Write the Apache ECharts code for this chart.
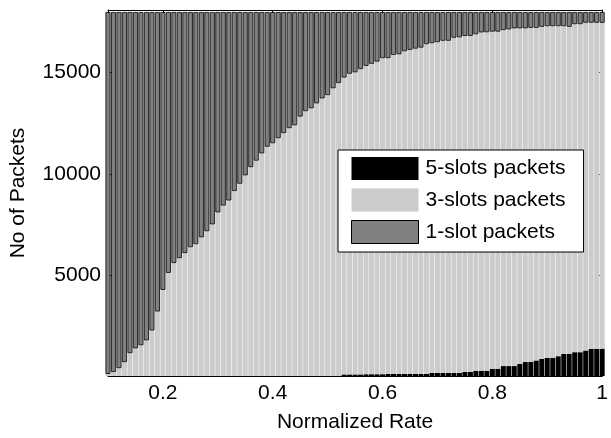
<!DOCTYPE html>
<html>
<head>
<meta charset="utf-8">
<script src="https://cdn.jsdelivr.net/npm/echarts@6/dist/echarts.min.js"></script>
<style>
  html, body { margin: 0; padding: 0; background: #fff; }
  #chart { width: 611px; height: 438px; }
</style>
</head>
<body>
<div id="chart"></div>
<script>
// Normalized rate of each bar
const rates = [
  0.10, 0.11, 0.12, 0.13, 0.14, 0.15, 0.16, 0.17, 0.18, 0.19,
  0.20, 0.21, 0.22, 0.23, 0.24, 0.25, 0.26, 0.27, 0.28, 0.29,
  0.30, 0.31, 0.32, 0.33, 0.34, 0.35, 0.36, 0.37, 0.38, 0.39,
  0.40, 0.41, 0.42, 0.43, 0.44, 0.45, 0.46, 0.47, 0.48, 0.49,
  0.50, 0.51, 0.52, 0.53, 0.54, 0.55, 0.56, 0.57, 0.58, 0.59,
  0.60, 0.61, 0.62, 0.63, 0.64, 0.65, 0.66, 0.67, 0.68, 0.69,
  0.70, 0.71, 0.72, 0.73, 0.74, 0.75, 0.76, 0.77, 0.78, 0.79,
  0.80, 0.81, 0.82, 0.83, 0.84, 0.85, 0.86, 0.87, 0.88, 0.89,
  0.90, 0.91, 0.92, 0.93, 0.94, 0.95, 0.96, 0.97, 0.98, 0.99,
  1.00
];

// Packets needing 5 slots
const fiveSlot = [
  0, 0, 0, 0, 0, 0, 0, 0, 0, 0,
  0, 0, 0, 0, 0, 0, 0, 0, 0, 0,
  0, 0, 0, 0, 0, 0, 0, 0, 0, 0,
  0, 0, 0, 0, 0, 0, 0, 0, 0, 0,
  0, 0, 0, 80, 80, 80, 80, 90, 90, 90,
  90, 100, 100, 100, 100, 100, 100, 100, 100, 150,
  150, 150, 150, 150, 150, 210, 210, 260, 260, 260,
  360, 360, 490, 490, 490, 600, 690, 690, 770, 850,
  900, 900, 980, 1090, 1090, 1180, 1180, 1260, 1340, 1350,
  1350
];

// Packets needing 3 slots
const threeSlot = [
  100, 200, 390, 690, 1130, 1370, 1520, 1760, 2250, 3190,
  4260, 5100, 5590, 5830, 6080, 6370, 6520, 6860, 7160, 7500,
  8090, 8430, 8680, 9150, 9510, 9920, 10330, 10650, 11010, 11340,
  11510, 11760, 12010, 12260, 12400, 12830, 13100, 13240, 13480, 13730,
  13890, 14230, 14490, 14680, 14870, 14940, 15100, 15250, 15350, 15460,
  15630, 15620, 15780, 15810, 15960, 16030, 16090, 16140, 16310, 16310,
  16360, 16430, 16430, 16580, 16600, 16610, 16610, 16640, 16730, 16740,
  16670, 16670, 16620, 16650, 16700, 16590, 16500, 16530, 16450, 16420,
  16400, 16400, 16320, 16210, 16180, 16220, 16220, 16210, 16130, 16120,
  16120
];

// Packets needing a single slot
const oneSlot = [
  17900, 17800, 17610, 17310, 16870, 16630, 16480, 16240, 15750, 14810,
  13740, 12900, 12410, 12170, 11920, 11630, 11480, 11140, 10840, 10500,
  9910, 9570, 9320, 8850, 8490, 8080, 7670, 7350, 6990, 6660,
  6490, 6240, 5990, 5740, 5600, 5170, 4900, 4760, 4520, 4270,
  4110, 3770, 3510, 3240, 3050, 2980, 2820, 2660, 2560, 2450,
  2280, 2280, 2120, 2090, 1940, 1870, 1810, 1760, 1590, 1540,
  1490, 1420, 1420, 1270, 1250, 1180, 1180, 1100, 1010, 1000,
  970, 970, 890, 860, 810, 810, 810, 780, 780, 730,
  700, 700, 700, 700, 730, 600, 600, 530, 530, 530,
  530
];

// Rates that carry a tick and label on the x axis
const xTickLabels = [0.2, 0.4, 0.6, 0.8, 1];
const yTicks = [5000, 10000, 15000];
const seriesNames = ['5-slots packets', '3-slots packets', '1-slot packets'];

const FONT = 'Liberation Sans, Arial, sans-serif';

const categories = rates.map(r => String(r));
const tickSet = new Set(xTickLabels.map(v => String(v)));
const isTickCategory = (index, value) => tickSet.has(String(value));

const chart = echarts.init(document.getElementById('chart'), null, { renderer: 'canvas' });

const xBase = {
  type: 'category',
  data: categories,
  boundaryGap: false,
  splitLine: { show: false },
  axisLine: { show: true, onZero: false, lineStyle: { color: '#000', width: 1 } },
  axisTick: { show: true, inside: true, length: 5, interval: isTickCategory, lineStyle: { color: '#000' } }
};
const yBase = {
  type: 'value',
  min: 0,
  max: 18100,
  splitLine: { show: false },
  axisLine: { show: true, onZero: false, lineStyle: { color: '#000', width: 1 } },
  axisTick: { show: true, inside: true, length: 5, customValues: yTicks, lineStyle: { color: '#000' } }
};

const barCommon = {
  type: 'bar',
  stack: 'packets',
  barWidth: 5.0,
  clip: false,
  animation: false
};

chart.setOption({
  animation: false,
  textStyle: { fontFamily: FONT },
  grid: { left: 106, right: 3, top: 10, bottom: 59, containLabel: false },
  xAxis: [
    Object.assign({}, xBase, {
      position: 'bottom',
      name: 'Normalized Rate',
      nameLocation: 'middle',
      nameGap: 36,
      nameTextStyle: { fontFamily: FONT, fontSize: 21, color: '#000' },
      axisLabel: {
        show: true, margin: 7, interval: isTickCategory,
        fontFamily: FONT, fontSize: 21, color: '#000',
        formatter: v => String(Number(v))
      }
    }),
    Object.assign({}, xBase, { position: 'top', axisLabel: { show: false } })
  ],
  yAxis: [
    Object.assign({}, yBase, {
      position: 'left',
      name: 'No of Packets',
      nameLocation: 'middle',
      nameGap: 79,
      nameTextStyle: { fontFamily: FONT, fontSize: 21, color: '#000' },
      axisLabel: {
        show: true, margin: 7, customValues: yTicks,
        fontFamily: FONT, fontSize: 21, color: '#000',
        formatter: v => String(v)
      }
    }),
    Object.assign({}, yBase, { position: 'right', axisLabel: { show: false } })
  ],
  legend: {
    orient: 'vertical',
    left: 338,
    top: 150,
    padding: [7, 18, 8, 13],
    itemWidth: 67,
    itemHeight: 23,
    itemGap: 8.5,
    backgroundColor: '#fff',
    borderColor: '#000',
    borderWidth: 1,
    icon: 'rect',
    itemStyle: { borderWidth: 1 },
    data: seriesNames,
    textStyle: { fontFamily: FONT, fontSize: 21, color: '#000', padding: [0, 0, 0, 2] }
  },
  series: [
    Object.assign({}, barCommon, {
      name: seriesNames[0],
      data: fiveSlot,
      itemStyle: { color: '#000000' }
    }),
    Object.assign({}, barCommon, {
      name: seriesNames[1],
      data: threeSlot,
      itemStyle: { color: '#cccccc' }
    }),
    Object.assign({}, barCommon, {
      name: seriesNames[2],
      data: oneSlot,
      itemStyle: { color: '#808080', borderColor: '#000', borderWidth: 0.8 }
    })
  ]
});
</script>
</body>
</html>
